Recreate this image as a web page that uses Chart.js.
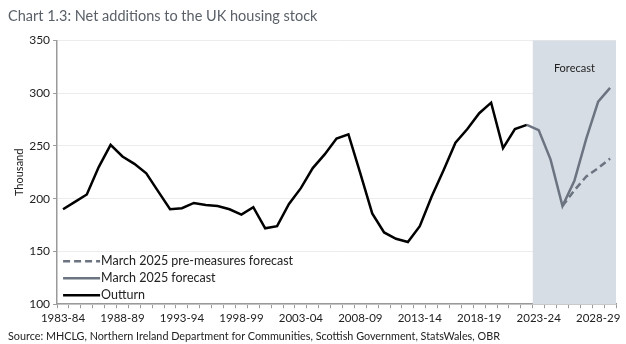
<!DOCTYPE html>
<html>
<head>
<meta charset="utf-8">
<script src="https://cdn.jsdelivr.net/npm/chart.js@4.4.1/dist/chart.umd.min.js"></script>
<style>
html,body{margin:0;padding:0;background:#fff;}
#wrap{width:626px;height:344px;}
</style>
</head>
<body>
<div id="wrap"><canvas id="grafico"></canvas></div>
<script>
// financial years 1983-84 .. 2029-30
const anios = [];
for (let a = 1983; a <= 2029; a++) {
  anios.push(a + "-" + String((a + 1) % 100).padStart(2, "0"));
}

// thousand net additions, outturn to 2022-23
const outturn = [190, 197, 204, 230, 251, 240, 233, 224, 207, 190,
  191, 196, 194, 193, 190, 185, 192, 172, 174, 195,
  210, 229, 242, 257, 261, 224, 186, 168, 162, 159,
  174, 202, 227, 253, 266, 281, 291, 248, 266, 270];

// March 2025 forecast, from 2022-23 (last outturn) onwards
const pronostico = [270, 265, 237, 193, 217, 257, 292, 305];

// pre-measures forecast splits off at 2025-26
const preMedidas = [193, 208, 221, 229, 238];

const inicioPronostico = 40; // index of 2023-24

function alinear(valores, desde) {
  const out = new Array(anios.length).fill(null);
  valores.forEach((v, i) => { out[desde + i] = v; });
  return out;
}

const fuente = "'Lato', 'Noto Sans', sans-serif";
const gris = "#6b7480";

// grey band behind the forecast years
const bandaPronostico = {
  id: "bandaPronostico",
  beforeDatasetsDraw(chart) {
    const { ctx, chartArea, scales } = chart;
    const x0 = (scales.x.getPixelForValue(inicioPronostico - 1) + scales.x.getPixelForValue(inicioPronostico)) / 2;
    ctx.save();
    ctx.fillStyle = "#d7dde5";
    ctx.fillRect(x0, chartArea.top, chartArea.right - x0, chartArea.bottom - chartArea.top);
    ctx.fillStyle = "#222";
    ctx.font = "11px " + fuente;
    ctx.textAlign = "center";
    ctx.textBaseline = "middle";
    ctx.fillText("Forecast", (x0 + chartArea.right) / 2, chartArea.top + 28);
    ctx.restore();
  }
};

// legend drawn inside the plot, bottom left
const leyenda = {
  id: "leyenda",
  afterDatasetsDraw(chart) {
    const { ctx, chartArea } = chart;
    const ds = chart.data.datasets;
    const x = chartArea.left + 6;
    let y = chartArea.bottom - 9 - (ds.length - 1) * 17;
    ctx.save();
    ctx.font = "12.5px " + fuente;
    ctx.textBaseline = "middle";
    ds.forEach(d => {
      ctx.strokeStyle = d.borderColor;
      ctx.lineWidth = d.borderWidth;
      ctx.setLineDash(d.borderDash || []);
      ctx.beginPath();
      ctx.moveTo(x, y);
      ctx.lineTo(x + 37, y);
      ctx.stroke();
      ctx.setLineDash([]);
      ctx.fillStyle = "#222";
      ctx.fillText(d.label, x + 38, y);
      y += 17;
    });
    ctx.restore();
  }
};

const ctx = document.getElementById("grafico");

new Chart(ctx, {
  type: "line",
  data: {
    labels: anios,
    datasets: [
      {
        label: "March 2025 pre-measures forecast",
        data: alinear(preMedidas, 42),
        borderColor: gris,
        borderWidth: 2.5,
        borderDash: [7, 4],
        pointRadius: 0,
        tension: 0
      },
      {
        label: "March 2025 forecast",
        data: alinear(pronostico, 39),
        borderColor: gris,
        borderWidth: 2.5,
        pointRadius: 0,
        tension: 0
      },
      {
        label: "Outturn",
        data: alinear(outturn, 0),
        borderColor: "#000",
        borderWidth: 2.5,
        pointRadius: 0,
        tension: 0
      }
    ]
  },
  options: {
    responsive: true,
    maintainAspectRatio: false,
    animation: false,
    layout: { padding: { left: 8, right: 10, top: 4, bottom: 0 } },
    plugins: {
      title: {
        display: true,
        text: "Chart 1.3: Net additions to the UK housing stock",
        align: "start",
        color: "#5a6068",
        font: { family: fuente, size: 14.5, weight: "normal" },
        padding: { top: 4, bottom: 15 }
      },
      subtitle: {
        display: true,
        position: "bottom",
        text: "Source: MHCLG, Northern Ireland Department for Communities, Scottish Government, StatsWales, OBR",
        align: "start",
        color: "#222",
        font: { family: fuente, size: 10.8 },
        padding: { top: 2, bottom: 1 }
      },
      legend: { display: false },
      tooltip: { enabled: false }
    },
    scales: {
      x: {
        type: "category",
        offset: true,
        grid: {
          offset: true,
          drawOnChartArea: false,
          tickLength: 4,
          tickColor: "#9a9a9a"
        },
        border: { color: "#9a9a9a", width: 1.5 },
        ticks: {
          autoSkip: false,
          maxRotation: 0,
          color: "#222",
          font: { family: fuente, size: 11.5 },
          padding: 3,
          callback: function (v, i) { return i % 5 === 0 ? anios[i] : ""; }
        }
      },
      y: {
        min: 100,
        max: 350,
        ticks: {
          stepSize: 50,
          color: "#222",
          font: { family: fuente, size: 12 },
          padding: 3
        },
        grid: {
          color: "#ececec",
          tickColor: "#9a9a9a",
          tickLength: 4
        },
        border: { color: "#9a9a9a", width: 1.5 },
        title: {
          display: true,
          text: "Thousand",
          color: "#222",
          font: { family: fuente, size: 11 },
          padding: { top: 5, bottom: 0 }
        }
      }
    }
  },
  plugins: [bandaPronostico, leyenda]
});
</script>
</body>
</html>
